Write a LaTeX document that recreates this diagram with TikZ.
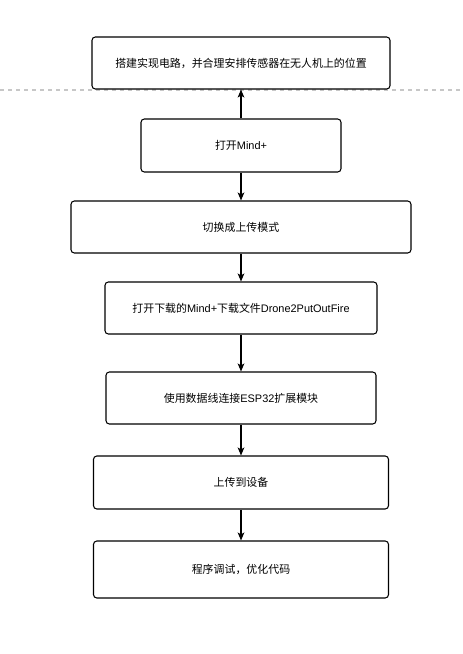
\documentclass[tikz,border=0pt]{standalone}
\usepackage{fontspec}
\setmainfont{Noto Sans CJK SC}
\newfontfamily\latf{Liberation Sans}
\usetikzlibrary{arrows.meta}
\begin{document}
\begin{tikzpicture}[x=0.75pt,y=-0.75pt,
  stepbox/.style={draw=black,line width=0.8pt,rounded corners=2.5pt,fill=white,inner sep=0pt,font=\fontsize{8.2pt}{10pt}\selectfont},
  flow/.style={line width=0.8pt,-{Stealth[length=6pt,width=5pt,inset=1.5pt]}}]
\useasboundingbox (0,0) rectangle (462,654);
\draw[draw=black!22,line width=0.8pt,dash pattern=on 3pt off 3pt] (0,90) -- (462,90);
\node[stepbox,minimum width=298*0.75pt,minimum height=52*0.75pt] (b1) at (241,63) {搭建实现电路，并合理安排传感器在无人机上的位置};
\node[stepbox,minimum width=200*0.75pt,minimum height=53*0.75pt] (b2) at (241,145.5) {打开{\latf Mind+}};
\node[stepbox,minimum width=340*0.75pt,minimum height=52*0.75pt] (b3) at (241,227) {切换成上传模式};
\node[stepbox,minimum width=272*0.75pt,minimum height=52*0.75pt] (b4) at (241,308) {打开下载的{\latf Mind+}下载文件{\latf Drone2PutOutFire}};
\node[stepbox,minimum width=270*0.75pt,minimum height=52*0.75pt] (b5) at (241,398) {使用数据线连接{\latf ESP32}扩展模块};
\node[stepbox,minimum width=295*0.75pt,minimum height=53*0.75pt] (b6) at (241,482.5) {上传到设备};
\node[stepbox,minimum width=295*0.75pt,minimum height=57*0.75pt] (b7) at (241,569.5) {程序调试，优化代码};
\draw[flow] (b2) -- (b1);
\draw[flow] (b2) -- (b3);
\draw[flow] (b3) -- (b4);
\draw[flow] (b4) -- (b5);
\draw[flow] (b5) -- (b6);
\draw[flow] (b6) -- (b7);
\end{tikzpicture}
\end{document}
